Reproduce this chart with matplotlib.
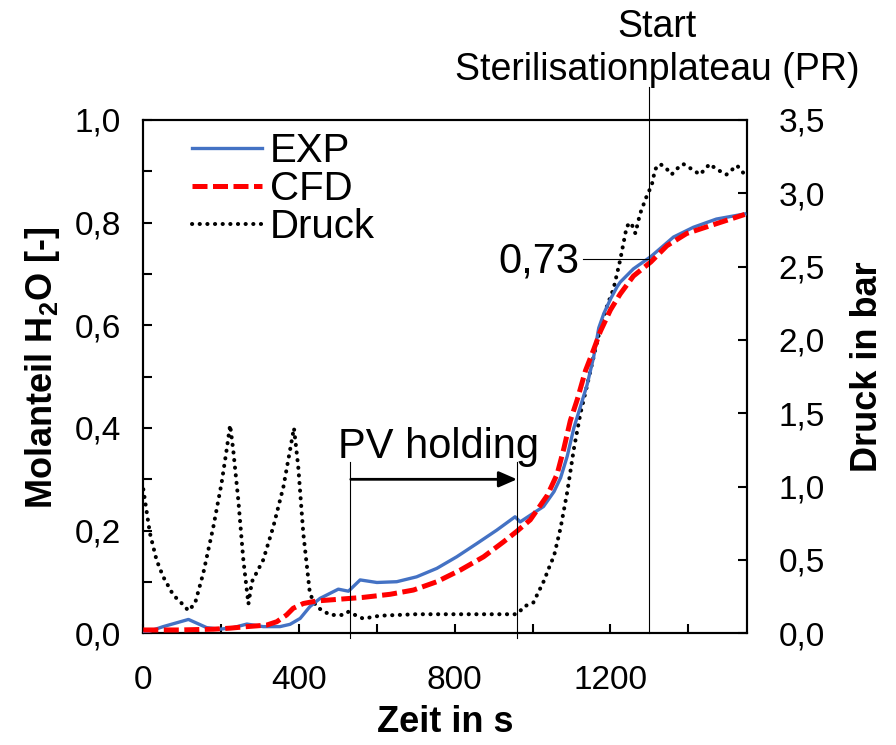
import matplotlib
matplotlib.use("Agg")
import matplotlib.pyplot as plt
from matplotlib.ticker import MultipleLocator, FuncFormatter

plt.rcParams['font.family'] = ['Liberation Sans', 'DejaVu Sans']
plt.rcParams['mathtext.fontset'] = 'custom'
plt.rcParams['mathtext.rm'] = 'Liberation Sans'
plt.rcParams['mathtext.bf'] = 'Liberation Sans:bold'

# ---------------- data ----------------
exp_t = [0, 51, 116, 163, 197, 231, 266, 308, 351, 377, 403, 428, 454, 501, 527, 557,
         600, 651, 702, 754, 805, 857, 908, 955, 968, 994, 1028, 1055, 1072, 1089, 1106,
         1123, 1140, 1157, 1170, 1183, 1200, 1217, 1225, 1259, 1304, 1362, 1413, 1472, 1545]
exp_v = [0.0, 0.013, 0.027, 0.011, 0.008, 0.011, 0.018, 0.013, 0.013, 0.0175, 0.029, 0.052,
         0.068, 0.086, 0.082, 0.104, 0.099, 0.1005, 0.110, 0.1265, 0.149, 0.175, 0.201, 0.227,
         0.217, 0.230, 0.247, 0.276, 0.303, 0.345, 0.40, 0.442, 0.484, 0.539, 0.595, 0.623,
         0.651, 0.675, 0.684, 0.710, 0.734, 0.772, 0.791, 0.807, 0.817]

cfd_t = [0, 94, 180, 223, 266, 317, 343, 368, 385, 411, 445, 497, 565, 634, 694, 754, 814,
         874, 925, 960, 994, 1038, 1063, 1080, 1097, 1115, 1136, 1157, 1174, 1200, 1225,
         1259, 1304, 1345, 1396, 1464, 1545]
cfd_v = [0.0065, 0.0065, 0.008, 0.010, 0.013, 0.016, 0.0226, 0.0357, 0.0487, 0.058, 0.063,
         0.066, 0.070, 0.076, 0.0843, 0.1005, 0.123, 0.149, 0.178, 0.199, 0.221, 0.269,
         0.310, 0.359, 0.4145, 0.456, 0.512, 0.553, 0.588, 0.630, 0.661, 0.696, 0.7236,
         0.755, 0.779, 0.796, 0.816]

druck_t = [0, 17, 34, 51, 77, 103, 116, 133, 154, 180, 201, 214, 223, 231, 244, 257, 270,
           279, 308, 334, 360, 377, 387, 398, 411, 428, 445, 480, 514, 527, 544, 565, 608,
           700, 800, 900, 955, 965, 976, 1002, 1029, 1045, 1055, 1072, 1089, 1106, 1123,
           1140, 1157, 1174, 1191, 1208, 1225, 1242, 1253, 1264, 1276, 1293, 1306, 1315,
           1328, 1345, 1357, 1372, 1387, 1409, 1430, 1455, 1472, 1498, 1525, 1545]
druck_p = [0.982, 0.682, 0.50, 0.386, 0.261, 0.193, 0.154, 0.205, 0.409, 0.727, 1.023, 1.25,
           1.42, 1.25, 0.909, 0.50, 0.20, 0.352, 0.50, 0.727, 1.0, 1.25, 1.40, 1.136, 0.682,
           0.27, 0.18, 0.125, 0.125, 0.147, 0.125, 0.10, 0.12, 0.13, 0.13, 0.13, 0.13, 0.14,
           0.18, 0.21, 0.357, 0.466, 0.527, 0.72, 0.963, 1.257, 1.50, 1.69, 1.888, 2.08, 2.23,
           2.35, 2.545, 2.776, 2.80, 2.727, 2.86, 2.98, 3.055, 3.165, 3.20, 3.165, 3.128,
           3.17, 3.20, 3.165, 3.128, 3.20, 3.165, 3.128, 3.19, 3.128]

pv_start, pv_end = 530, 960
pr_start = 1300
pr_value = 0.73

# ---------------- figure ----------------
W, H = 896, 745
fig = plt.figure(figsize=(W / 100, H / 100), dpi=100)
L, R, T, B = 143.3, 746.7, 120.0, 633.3
ax = fig.add_axes([L / W, 1 - B / H, (R - L) / W, (B - T) / H])
ax2 = ax.twinx()

blue = '#4472C4'
l_exp, = ax.plot(exp_t, exp_v, color=blue, lw=2.4, zorder=3, solid_joinstyle='round')
l_cfd, = ax.plot(cfd_t, cfd_v, color='#FF0000', lw=3.6, dashes=(3, 1.1), zorder=4)
l_dr, = ax2.plot(druck_t, druck_p, color='black', lw=2.9, linestyle=(0, (0.05, 1.85)),
                 dash_capstyle='round', zorder=2)

ax.set_xlim(0, 1550)
ax.set_ylim(0, 1.0)
ax2.set_ylim(0, 3.5)
ax.set_zorder(ax2.get_zorder() + 1)
ax.patch.set_visible(False)

comma = FuncFormatter(lambda v, p: f"{v:.1f}".replace('.', ','))
ax.xaxis.set_major_locator(MultipleLocator(400))
ax.xaxis.set_minor_locator(MultipleLocator(200))
ax.yaxis.set_major_locator(MultipleLocator(0.2))
ax.yaxis.set_minor_locator(MultipleLocator(0.1))
ax.yaxis.set_major_formatter(comma)
ax2.yaxis.set_major_locator(MultipleLocator(0.5))
ax2.yaxis.set_major_formatter(comma)

for a in (ax, ax2):
    for s in a.spines.values():
        s.set_linewidth(1.5)
ax.tick_params(which='both', direction='in', length=6.5, width=1.5, labelsize=24)
ax.tick_params(axis='x', which='both', top=False, pad=23)
ax.tick_params(axis='y', which='both', right=False, pad=16)
ax2.tick_params(which='both', direction='in', length=6.5, width=1.5, labelsize=24, pad=23)

ax.set_xlabel('Zeit in s', fontsize=26, fontweight='bold')
ax.xaxis.set_label_coords(0.5, -0.14)
ax.set_ylabel(r'Molanteil H$_\mathbf{2}$O [-]', fontsize=26, fontweight='bold')
ax.yaxis.set_label_coords(-0.135, 0.517)
ax2.set_ylabel('Druck in bar', fontsize=26, fontweight='bold')
ax2.yaxis.set_label_coords(1.171, 0.519)

# legend
leg = ax.legend([l_exp, l_cfd, l_dr], ['EXP', 'CFD', 'Druck'], loc='upper left',
                bbox_to_anchor=(191.7 / W, 1 - 132 / H), bbox_transform=fig.transFigure,
                frameon=False, fontsize=29, borderpad=0, borderaxespad=0,
                handlelength=1.75, handletextpad=0.2, labelspacing=0.0)

# annotations
thin = dict(color='black', lw=0.8, clip_on=False, zorder=5)
ax.plot([pv_start, pv_start], [-0.01, 0.334], **thin)
ax.plot([pv_end, pv_end], [-0.01, 0.334], **thin)
ax.annotate('', xy=(pv_end, 0.300), xytext=(pv_start + 3, 0.300),
            arrowprops=dict(arrowstyle='-|>,head_length=0.55,head_width=0.24',
                            mutation_scale=20, color='black', lw=2.0,
                            shrinkA=0, shrinkB=0), zorder=5)
ax.text(501, 0.341, 'PV holding', fontsize=30, ha='left', va='baseline')

ax.plot([pr_start, pr_start], [0, 1.064], **thin)
ax.plot([1130, pr_start], [pr_value, pr_value], **thin)
ax.text(1120, 0.725, '0,73', fontsize=30, ha='right', va='center')

fig.text(657 / W, 1 - 36.7 / H, 'Start', fontsize=27, ha='center', va='baseline')
fig.text(657 / W, 1 - 80 / H, 'Sterilisationplateau (PR)', fontsize=27,
         ha='center', va='baseline')

fig.savefig('out.png', dpi=100)
